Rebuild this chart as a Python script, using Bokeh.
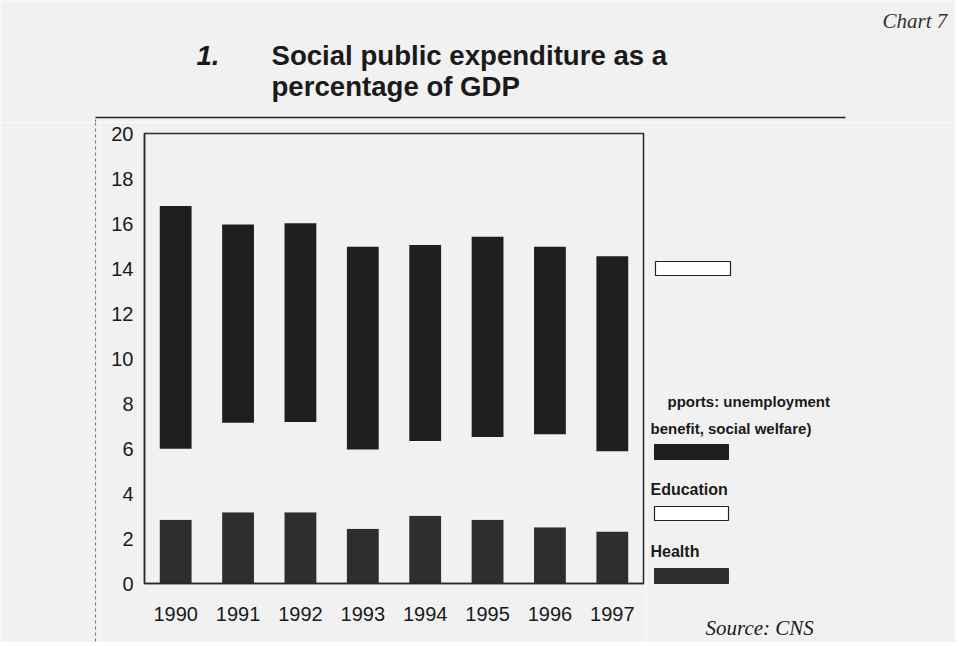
from bokeh.plotting import figure
from bokeh.layouts import column, row
from bokeh.models import FactorRange, Range1d, FixedTicker, ColumnDataSource
from bokeh.core.properties import value
from bokeh.embed import file_html
from bokeh.resources import INLINE

years = ["1990", "1991", "1992", "1993", "1994", "1995", "1996", "1997"]
health = [2.83, 3.17, 3.17, 2.43, 3.01, 2.83, 2.50, 2.31]
education = [3.16, 3.98, 4.01, 3.53, 3.32, 3.68, 4.13, 3.57]
social_supports = [10.79, 8.81, 8.83, 9.01, 8.71, 8.90, 8.34, 8.67]
y_ticks = [0, 2, 4, 6, 8, 10, 12, 14, 16, 18, 20]

BG = "#f1f1f1"
DARK = "#1f1f1f"
HEALTH_C = "#2e2e2e"
INK = "#1a1a1a"
SANS = "Liberation Sans"
SERIF = "Liberation Serif"


def blank(x0, x1, y0, y1):
    # helper canvas whose data coordinates equal page pixels
    f = figure(width=x1 - x0, height=y1 - y0, x_range=Range1d(x0, x1),
               y_range=Range1d(y1, y0), output_backend="svg", toolbar_location=None,
               x_axis_type=None, y_axis_type=None, min_border=0)
    f.background_fill_color = BG
    f.border_fill_color = BG
    f.outline_line_color = None
    f.grid.visible = False
    return f


def txt(f, text, x, baseline, size, font=SANS, style="bold", color=INK):
    # the renderer places the text centre at y; shift so the baseline lands where wanted
    f.text(x=[x], y=[baseline - 0.36 * size], text=[text], text_font=value(font),
           text_font_size=value(f"{size}px"), text_font_style=style, text_color=color,
           text_baseline="alphabetic", text_align="left")


# ---- top strip: titles ----
top = blank(0, 955, 0, 122)
txt(top, "Chart 7", 882, 28, 21, font=SERIF, style="italic", color="#333333")
txt(top, "1.", 196, 65, 27.6, style="bold italic")
txt(top, "Social public expenditure as a", 271, 65, 27.6)
txt(top, "percentage of GDP", 271, 96, 27.6)
top.segment(x0=[95], y0=[117], x1=[845], y1=[117], line_color="#222222", line_width=1.5)
top.segment(x0=[95], y0=[119], x1=[95], y1=[122], line_color="#777777", line_width=1,
            line_dash="3 3")

# ---- left strip: dashed box edge ----
left = blank(0, 100, 122, 642)
left.segment(x0=[95], y0=[122], x1=[95], y1=[642], line_color="#777777", line_width=1,
             line_dash="3 3")

# ---- main chart ----
src = ColumnDataSource(dict(years=years, health=health, education=education,
                            social=social_supports))
p = figure(width=546, height=520, x_range=FactorRange(*years), y_range=Range1d(0, 20),
           output_backend="svg", toolbar_location=None,
           min_border_left=44, min_border_right=3, min_border_top=11,
           min_border_bottom=59)
p.background_fill_color = BG
p.border_fill_color = BG
p.outline_line_color = "#2a2a2a"
p.outline_line_width = 1.5
p.xgrid.visible = False
p.ygrid.visible = False

p.vbar_stack(["health", "education", "social"], x="years", width=0.51, source=src,
             fill_color=[HEALTH_C, BG, DARK], line_color=[None, None, None])

p.yaxis.ticker = FixedTicker(ticks=y_ticks)
p.yaxis.major_label_text_font = SANS
p.yaxis.major_label_text_font_size = "20px"
p.yaxis.major_label_text_color = INK
p.yaxis.axis_line_color = "#2a2a2a"
p.yaxis.axis_line_width = 1.5
p.yaxis.major_tick_line_color = None
p.yaxis.minor_tick_line_color = None
p.yaxis.major_label_standoff = 5

p.xaxis.major_label_text_font = SANS
p.xaxis.major_label_text_font_size = "20px"
p.xaxis.major_label_text_color = INK
p.xaxis.axis_line_color = "#2a2a2a"
p.xaxis.axis_line_width = 1.5
p.xaxis.major_tick_line_color = None
p.xaxis.major_label_standoff = 17

# ---- right strip: legend and source ----
rt = blank(646, 955, 122, 642)
rt.quad(left=[655], right=[730], top=[261], bottom=[275], fill_color="white",
        line_color="#222222", line_width=1.2)
txt(rt, "pports: unemployment", 667, 406, 15)
txt(rt, "benefit, social welfare)", 650, 433, 15)
rt.quad(left=[654], right=[728], top=[444], bottom=[459], fill_color=DARK,
        line_color=DARK)
txt(rt, "Education", 650, 495, 16)
rt.quad(left=[654], right=[728], top=[506], bottom=[520], fill_color="white",
        line_color="#222222", line_width=1.2)
txt(rt, "Health", 650, 557, 16)
rt.quad(left=[654], right=[728], top=[568], bottom=[583], fill_color=HEALTH_C,
        line_color=HEALTH_C)
txt(rt, "Source: CNS", 705, 635, 21, font=SERIF, style="italic")

layout = column(top, row(column(left), p, column(rt)))
open("out.html", "w").write(file_html(layout, INLINE))
